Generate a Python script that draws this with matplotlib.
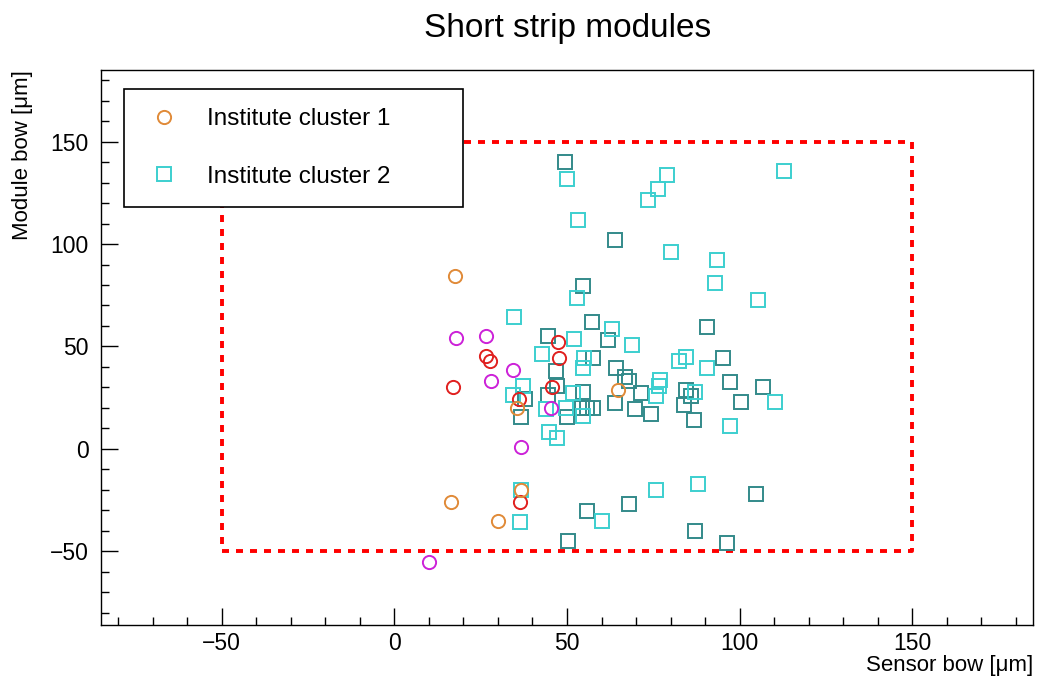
import matplotlib
matplotlib.use('Agg')
import matplotlib.pyplot as plt
from matplotlib.ticker import MultipleLocator

# cluster 1 (circles), three sub-groups
orange_x = [17.7, 64.7, 35.5, 16.4, 30.0, 36.7]
orange_y = [84.6, 28.8, 19.9, -25.8, -35.2, -20.0]
red_x = [17.0, 26.5, 27.7, 47.3, 47.7, 45.6, 36.1, 36.4]
red_y = [30.2, 45.1, 42.7, 52.2, 44.3, 30.0, 24.3, -26.0]
magenta_x = [17.8, 26.6, 34.5, 27.9, 45.4, 36.7, 10.1]
magenta_y = [54.1, 54.9, 38.3, 32.9, 19.9, 1.1, -55.1]

# cluster 2 (squares), two sub-groups
cyan_x = [50.0, 79.1, 76.5, 73.6, 53.3, 80.0, 113.0, 93.4, 93.0, 105.3,
          52.9, 34.7, 63.0, 52.0, 68.9, 42.7, 54.8, 54.5, 82.4, 84.6,
          90.5, 110.3, 97.3, 87.0, 77.0, 76.7, 75.7, 37.2, 34.5, 51.6,
          44.0, 49.8, 54.6, 44.8, 47.1, 36.7, 36.4, 60.1, 75.7, 88.0]
cyan_y = [132.0, 133.6, 127.0, 121.4, 111.5, 96.3, 135.8, 92.3, 80.8, 72.9,
          73.7, 64.4, 58.7, 53.6, 50.7, 46.5, 44.6, 39.5, 43.0, 45.0,
          39.3, 22.8, 11.4, 28.0, 33.7, 30.5, 25.6, 30.8, 26.4, 27.2,
          19.4, 19.9, 16.1, 8.0, 5.2, -20.0, -35.5, -35.0, -20.0, -17.1]
teal_x = [49.5, 63.9, 54.6, 57.2, 62.0, 44.4, 57.5, 64.2, 46.9, 47.1,
          37.7, 36.7, 44.6, 54.5, 50.1, 54.3, 55.8, 57.4, 63.8, 66.9,
          68.1, 71.4, 69.8, 74.4, 83.8, 84.6, 86.0, 86.8, 90.5, 95.2,
          97.3, 100.3, 106.7, 50.2, 55.7, 68.0, 87.2, 96.3, 104.8]
teal_y = [140.0, 102.2, 79.4, 62.0, 53.0, 54.9, 44.3, 39.4, 37.8, 30.8,
          24.3, 15.5, 26.4, 28.0, 15.5, 19.9, 19.9, 19.9, 22.3, 34.9,
          32.9, 27.2, 19.4, 17.0, 21.4, 28.9, 25.6, 14.3, 59.3, 44.3,
          32.8, 22.8, 30.0, -45.0, -30.2, -27.0, -40.1, -45.8, -22.2]

# acceptance window
box_x = [-50, 150]
box_y = [-50, 150]

plt.rcParams['font.family'] = ['Liberation Sans', 'DejaVu Sans']


def drawPoints(ax, x, y, marker, color, label=None):
    ax.plot(x, y, linestyle='none', marker=marker, markersize=9.5,
            markerfacecolor='none', markeredgecolor=color,
            markeredgewidth=1.4, label=label, zorder=3)


def main():
    fig = plt.figure(figsize=(10.39, 6.78), dpi=100)
    ax = fig.add_axes([0.0972, 0.0782, 0.8970, 0.8186])

    ax.plot([box_x[0], box_x[1], box_x[1], box_x[0], box_x[0]],
            [box_y[0], box_y[0], box_y[1], box_y[1], box_y[0]],
            color='#ff0000', linewidth=2.8, linestyle=(0, (1.8, 1.8)), zorder=2)

    drawPoints(ax, teal_x, teal_y, 's', '#338a8a')
    drawPoints(ax, cyan_x, cyan_y, 's', '#3ccfcf', 'Institute cluster 2')
    drawPoints(ax, red_x, red_y, 'o', '#e0201f')
    drawPoints(ax, magenta_x, magenta_y, 'o', '#cc22d8')
    drawPoints(ax, orange_x, orange_y, 'o', '#e08a38', 'Institute cluster 1')

    ax.set_xlim(-85, 185)
    ax.set_ylim(-86, 185)
    ax.xaxis.set_major_locator(MultipleLocator(50))
    ax.xaxis.set_minor_locator(MultipleLocator(10))
    ax.yaxis.set_major_locator(MultipleLocator(50))
    ax.yaxis.set_minor_locator(MultipleLocator(10))
    ax.tick_params(which='both', direction='in', top=False, right=False,
                   labelsize=16.5, width=1.0)
    ax.tick_params(which='major', length=12)
    ax.tick_params(which='minor', length=6)
    ax.tick_params(axis='x', pad=5)
    ax.tick_params(axis='y', pad=9)
    for s in ax.spines.values():
        s.set_linewidth(1.0)

    ax.set_xlabel('Sensor bow [\u03bcm]', fontsize=16, ha='right', va='center')
    ax.xaxis.set_label_coords(1.0, -0.073)
    ax.set_ylabel('Module bow [\u03bcm]', fontsize=16, loc='top', labelpad=12)

    handles, labels = ax.get_legend_handles_labels()
    order = [labels.index('Institute cluster 1'), labels.index('Institute cluster 2')]
    leg = ax.legend([handles[i] for i in order], [labels[i] for i in order],
                    loc='upper left', bbox_to_anchor=(0.0247, 0.766, 0.3633, 0.2),
                    mode='expand', borderaxespad=0, fancybox=False,
                    edgecolor='black', framealpha=1, fontsize=17.5,
                    handletextpad=0.9, borderpad=0.8, labelspacing=1.45,
                    handlelength=1.7)
    leg.get_frame().set_linewidth(1.2)
    leg.set_zorder(5)

    fig.text(0.546, 1 - 29 / 678, 'Short strip modules', fontsize=24,
             ha='center', va='center')

    fig.savefig('out.png', dpi=100)


if __name__ == "__main__":
    main()
